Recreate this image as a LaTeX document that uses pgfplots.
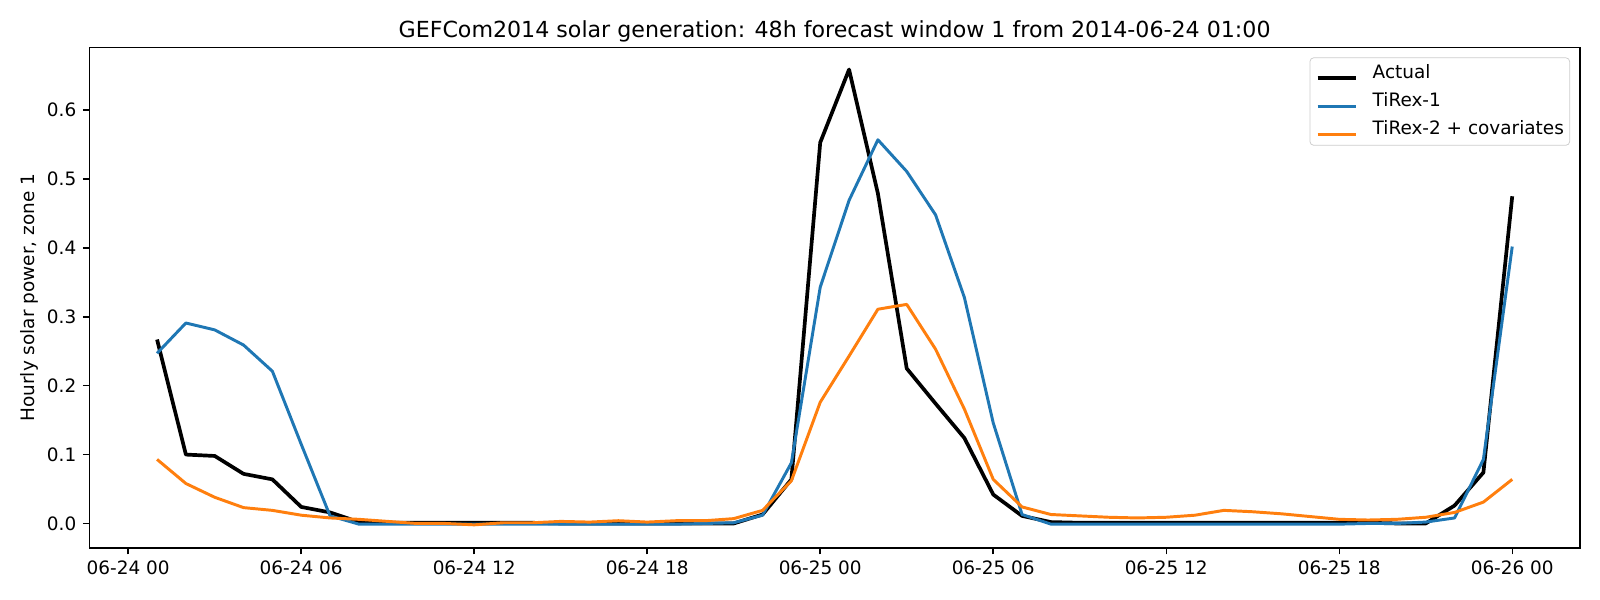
\documentclass[border=0pt]{standalone}
\usepackage{fontspec}
\setmainfont{DejaVu Sans}
\usepackage{pgfplots}
\usepackage{pgfplotstable}
\pgfplotsset{compat=1.18}

\definecolor{tabblue}{HTML}{1F77B4}
\definecolor{taborange}{HTML}{FF7F0E}

% hour offset from 2014-06-24 00:00, actual, TiRex-1, TiRex-2 + covariates
\pgfplotstableread{
h  actual  tirexA  tirexB
1  0.267   0.247   0.093
2  0.100   0.291   0.058
3  0.098   0.281   0.038
4  0.072   0.259   0.023
5  0.064   0.221   0.019
6  0.024   0.115   0.012
7  0.016   0.011   0.008
8  0.002  -0.001   0.006
9  0.001  -0.001   0.003
10 0.001  -0.001   0.000
11 0.001  -0.001   0.000
12 0.001  -0.001  -0.002
13 0.001  -0.001   0.001
14 0.001  -0.001   0.001
15 0.000  -0.001   0.003
16 0.000  -0.001   0.002
17 0.000  -0.001   0.004
18 0.000  -0.001   0.002
19 0.000  -0.001   0.004
20 0.000   0.000   0.004
21 0.000   0.001   0.007
22 0.013   0.012   0.019
23 0.064   0.088   0.062
24 0.553   0.343   0.176
25 0.659   0.469   0.243
26 0.479   0.557   0.311
27 0.225   0.511   0.318
28 0.174   0.448   0.253
29 0.124   0.328   0.166
30 0.042   0.146   0.064
31 0.011   0.013   0.024
32 0.002  -0.001   0.013
33 0.001  -0.001   0.011
34 0.001  -0.001   0.009
35 0.001  -0.001   0.008
36 0.001  -0.001   0.009
37 0.001  -0.001   0.012
38 0.001  -0.001   0.019
39 0.001  -0.001   0.017
40 0.001  -0.001   0.014
41 0.001  -0.001   0.010
42 0.001  -0.001   0.006
43 0.001   0.000   0.005
44 0.000   0.000   0.006
45 0.000   0.002   0.009
46 0.026   0.008   0.016
47 0.074   0.093   0.031
48 0.475   0.402   0.064
}\solar

\begin{document}
\begin{tikzpicture}
\useasboundingbox (-48.40pt,-28.19pt) rectangle (818.85pt,297.03pt);
\begin{axis}[
  at={(0pt,0pt)}, anchor=south west,
  scale only axis, width=808.0pt, height=271.3pt,
  xmin=-1.35, xmax=50.35, ymin=-0.0356, ymax=0.691,
  font=\fontsize{10}{12}\selectfont,
  /pgf/number format/assume math mode=true,
  xtick={0,6,12,18,24,30,36,42,48},
  xticklabels={06-24 00,06-24 06,06-24 12,06-24 18,06-25 00,06-25 06,06-25 12,06-25 18,06-26 00},
  ytick={0,0.1,0.2,0.3,0.4,0.5,0.6},
  yticklabels={0.0,0.1,0.2,0.3,0.4,0.5,0.6},
  tick pos=left, tick align=outside,
  major tick length=3.52pt,
  every tick/.style={black, line width=0.8pt},
  axis line style={line width=0.8pt},
  title={GEFCom2014 solar generation: 48h forecast window 1 from 2014-06-24 01:00},
  title style={font=\fontsize{12}{14}\selectfont, anchor=base, inner sep=0pt, at={(axis description cs:0.5,1)}, yshift=-0.6pt},
  every axis y label/.style={at={(axis description cs:-0.0404,0.5)}, anchor=center, rotate=90},
  ylabel={Hourly solar power, zone 1},
  legend cell align=left,
  legend image code/.code={\draw[#1] (0pt,0pt) -- (20.8pt,0pt);},
  legend style={at={(1,1)}, anchor=north east, xshift=-5.42pt, yshift=-5.42pt,
    draw=black!20, rounded corners=2pt, fill=white,
    inner xsep=3.1pt, inner ysep=3.5pt, row sep=5.2pt, column sep=8.1pt,
    nodes={inner sep=0pt, text height=7.6pt, text depth=2.4pt, anchor=base west},
    font=\fontsize{10}{12}\selectfont},
]
\addplot[black, line width=2pt, line join=round] table[x=h, y=actual] {\solar};
\addlegendentry{Actual}
\addplot[tabblue, line width=1.6pt, line join=round] table[x=h, y=tirexA] {\solar};
\addlegendentry{TiRex-1}
\addplot[taborange, line width=1.6pt, line join=round] table[x=h, y=tirexB] {\solar};
\addlegendentry{TiRex-2 + covariates}
\end{axis}
\end{tikzpicture}
\end{document}
